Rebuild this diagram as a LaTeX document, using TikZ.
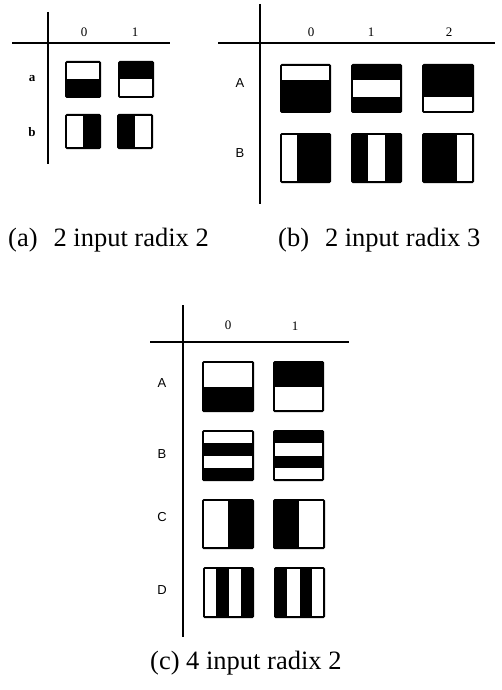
\documentclass[tikz,border=0pt]{standalone}
\usepackage{fontspec}
\setmainfont{Liberation Serif}
\newfontfamily\lblsans{Liberation Sans}
\begin{document}
\begin{tikzpicture}[x=1pt,y=-1pt,
  axis/.style={line width=1.9pt,black},
  lbl/.style={font=\fontsize{13}{13}\selectfont,inner sep=0pt},
  blbl/.style={font=\bfseries\fontsize{13}{13}\selectfont,inner sep=0pt},
  slbl/.style={font=\lblsans\fontsize{13}{13}\selectfont,inner sep=0pt},
  captext/.style={font=\fontsize{26.5}{27}\selectfont,inner sep=0pt}]
\newcommand{\tileH}[6]{%
  \fill[black,rounded corners=1.5] (#1,#2) rectangle ++(#3,#4);
  \foreach \i in {#6}{%
    \pgfmathsetmacro\ya{max(#2+\i*#4/#5,#2+2)}%
    \pgfmathsetmacro\yb{min(#2+(\i+1)*#4/#5,#2+#4-2)}%
    \fill[white] ({#1+2},\ya) rectangle ({#1+#3-2},\yb);
  }}
\newcommand{\tileV}[6]{%
  \fill[black,rounded corners=1.5] (#1,#2) rectangle ++(#3,#4);
  \foreach \i in {#6}{%
    \pgfmathsetmacro\xa{max(#1+\i*#3/#5,#1+2)}%
    \pgfmathsetmacro\xb{min(#1+(\i+1)*#3/#5,#1+#3-2)}%
    \fill[white] (\xa,{#2+2}) rectangle (\xb,{#2+#4-2});
  }}
\useasboundingbox (0,0) rectangle (501,690);
% ---------- panel (a)
\coordinate (aVt) at (48,12); \coordinate (aVb) at (48,164);
\coordinate (aHl) at (12,43); \coordinate (aHr) at (170,43);
\draw[axis] (aVt) -- (aVb);
\draw[axis] (aHl) -- (aHr);
\node[lbl] (a0) at (84,32) {0};
\node[lbl] (a1) at (135,32) {1};
\node[blbl] (aa) at (32,79) {a};
\node[blbl] (ab) at (32,132) {b};
\tileH{65}{61}{36}{37}{2}{0}
\tileH{118}{61}{36}{37}{2}{1}
\tileV{65}{114}{36}{35}{2}{0}
\tileV{117}{114}{36}{35}{2}{1}
\node[captext,anchor=west] (capa) at (8,240) {(a)\hspace{0.6em}2 input radix 2};
% ---------- panel (b)
\coordinate (bVt) at (260,4); \coordinate (bVb) at (260,204);
\coordinate (bHl) at (218,43); \coordinate (bHr) at (495,43);
\draw[axis] (bVt) -- (bVb);
\draw[axis] (bHl) -- (bHr);
\node[lbl] (b0) at (311,32) {0};
\node[lbl] (b1) at (371,32) {1};
\node[lbl] (b2) at (449,32) {2};
\node[slbl] (bA) at (240,83) {A};
\node[slbl] (bB) at (240,153) {B};
\tileH{280}{64}{51}{49}{3}{0}
\tileH{351}{64}{51}{49}{3}{1}
\tileH{422}{64}{52}{49}{3}{2}
\tileV{280}{133}{51}{50}{3}{0}
\tileV{351}{133}{51}{50}{3}{1}
\tileV{422}{133}{52}{50}{3}{2}
\node[captext,anchor=west] (capb) at (278,240) {(b)\hspace{0.6em}2 input radix 3};
% ---------- panel (c)
\coordinate (cVt) at (183,305); \coordinate (cVb) at (183,637);
\coordinate (cHl) at (150,342); \coordinate (cHr) at (349,342);
\draw[axis] (cVt) -- (cVb);
\draw[axis] (cHl) -- (cHr);
\node[lbl] (c0) at (228,325) {0};
\node[lbl] (c1) at (295,326) {1};
\node[slbl] (cA) at (162,383) {A};
\node[slbl] (cB) at (162,454) {B};
\node[slbl] (cC) at (162,517) {C};
\node[slbl] (cD) at (162,590) {D};
\tileH{202}{361}{52}{51}{2}{0}
\tileH{273}{361}{51}{51}{2}{1}
\tileH{202}{430}{52}{51}{4}{0,2}
\tileH{273}{430}{51}{51}{4}{1,3}
\tileV{202}{499}{52}{50}{2}{0}
\tileV{273}{499}{52}{50}{2}{1}
\tileV{203}{567}{51}{51}{4}{0,2}
\tileV{274}{567}{51}{51}{4}{1,3}
\node[captext,anchor=west] (capc) at (150,663) {(c) 4 input radix 2};
\end{tikzpicture}
\end{document}
